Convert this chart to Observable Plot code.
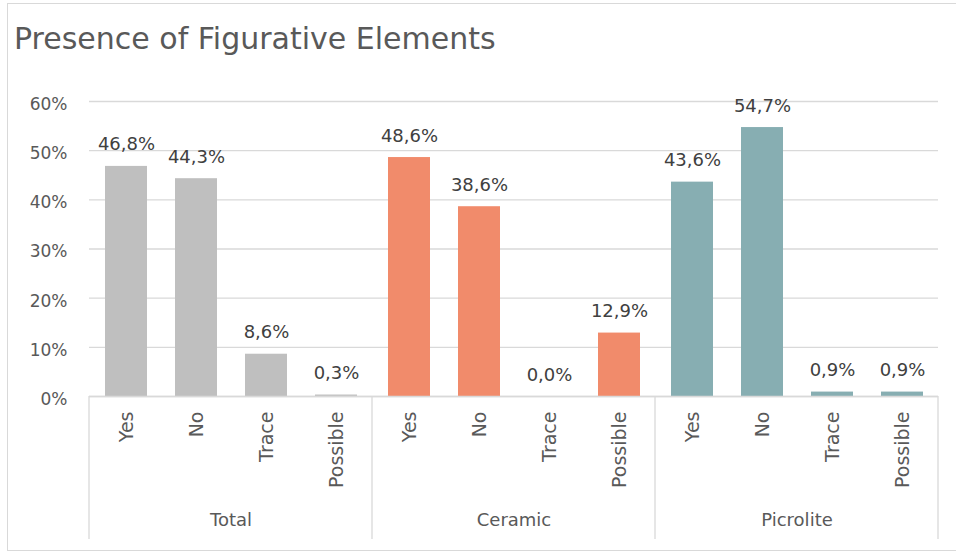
<!DOCTYPE html>
<html><head>
<meta charset="utf-8">
<script src="https://cdn.jsdelivr.net/npm/d3@7"></script>
<script src="https://cdn.jsdelivr.net/npm/@observablehq/plot@0.6"></script>
<style>
body{margin:0;background:#fff;}
#wrap{position:relative;width:956px;height:552px;overflow:hidden;font-family:"DejaVu Sans";}
#frame{position:absolute;left:7px;top:3px;width:980px;height:548px;border:1px solid #D9D9D9;box-sizing:border-box;}
#title{position:absolute;left:14px;top:21px;font-size:30px;line-height:36px;color:#595959;white-space:nowrap;}
#chart{position:absolute;left:0;top:0;}
</style></head><body>
<div id="wrap"><div id="frame"></div><div id="chart"></div><div id="title">Presence of Figurative Elements</div></div>
<script>
const groups = ["Total", "Ceramic", "Picrolite"];
const categories = ["Yes", "No", "Trace", "Possible"];
const totalValues = [46.8, 44.3, 8.6, 0.3];
const ceramicValues = [48.6, 38.6, 0.0, 12.9];
const picroliteValues = [43.6, 54.7, 0.9, 0.9];
const groupColors = ["#BFBFBF", "#F18B6B", "#87AEB2"];
const yTicks = [0, 10, 20, 30, 40, 50, 60];

const series = [totalValues, ceramicValues, picroliteValues];
const data = groups.flatMap((g, gi) => categories.map((c, ci) => ({group: g, category: c, value: series[gi][ci]})));
const fmt = v => v.toFixed(1).replace(".", ",") + "%";

const plot = Plot.plot({
  width: 956, height: 552,
  marginLeft: 88, marginRight: 18, marginTop: 101, marginBottom: 156,
  style: {fontFamily: "DejaVu Sans", fontSize: "17px", color: "#595959", background: "transparent", overflow: "visible"},
  fx: {domain: groups, padding: 0, label: null},
  x: {domain: categories, paddingInner: 0.4, paddingOuter: 0.2, label: null},
  y: {domain: [0, 60], label: null},
  color: {domain: groups, range: groupColors},
  marks: [
    Plot.gridY(yTicks, {stroke: "#D9D9D9", strokeOpacity: 1, strokeWidth: 1.3}),
    Plot.axisY(yTicks, {tickSize: 0, tickPadding: 22, tickFormat: d => d + "%", fontSize: 17, dy: 3}),
    Plot.barY(data, {fx: "group", x: "category", y: "value", fill: "group"}),
    Plot.ruleY([0], {stroke: "#D9D9D9", strokeWidth: 1.3}),
    Plot.text(data, {fx: "group", x: "category", y: "value", text: d => fmt(d.value), lineAnchor: "bottom", dy: -16, fontSize: 18, fill: "#404040"}),
    Plot.axisX({tickSize: 0, tickRotate: -90, tickPadding: 15, fontSize: 19}),
    Plot.axisFx({anchor: "bottom", tickSize: 0, tickPadding: 117, fontSize: 18})
  ]
});

// group separators at facet band edges, from the baseline down
const fx = plot.scale("fx");
const y = plot.scale("y");
const edges = groups.map(g => fx.apply(g)).concat([fx.apply(groups[groups.length - 1]) + fx.bandwidth]);
d3.select(plot).append("g")
  .selectAll("line").data(edges).join("line")
  .attr("x1", d => d).attr("x2", d => d)
  .attr("y1", y.apply(0)).attr("y2", y.apply(0) + 143)
  .attr("stroke", "#D9D9D9").attr("stroke-width", 1.3);

document.getElementById("chart").append(plot);
</script>
</body></html>
